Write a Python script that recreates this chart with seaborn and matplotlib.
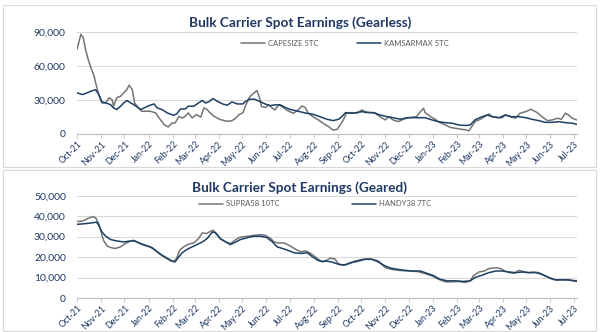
import matplotlib
matplotlib.use("Agg")
import matplotlib.pyplot as plt
import matplotlib.dates as mdates
from matplotlib.patches import Rectangle
import seaborn as sns
import pandas as pd

# ---------------- data ----------------
cape_dates = ["2021-10-01","2021-10-06","2021-10-09","2021-10-12","2021-10-16","2021-10-19","2021-10-23",
    "2021-10-26","2021-10-29","2021-11-02","2021-11-07","2021-11-11","2021-11-15","2021-11-17","2021-11-21",
    "2021-11-26","2021-11-30","2021-12-04","2021-12-07","2021-12-11","2021-12-14","2021-12-19","2021-12-23",
    "2022-01-03","2022-01-10","2022-01-16","2022-01-21","2022-01-26","2022-01-31","2022-02-04","2022-02-09",
    "2022-02-13","2022-02-17","2022-02-21","2022-02-26","2022-03-03","2022-03-09","2022-03-13","2022-03-17",
    "2022-03-21","2022-03-26","2022-04-03","2022-04-12","2022-04-18","2022-04-23","2022-04-27","2022-05-02",
    "2022-05-06","2022-05-11","2022-05-16","2022-05-20","2022-05-23","2022-05-26","2022-05-31","2022-06-04",
    "2022-06-08","2022-06-12","2022-06-17","2022-06-21","2022-06-27","2022-07-01","2022-07-06","2022-07-12",
    "2022-07-17","2022-07-21","2022-07-25","2022-07-31","2022-08-07","2022-08-13","2022-08-20","2022-08-26",
    "2022-08-31","2022-09-04","2022-09-08","2022-09-12","2022-09-19","2022-09-25","2022-10-02","2022-10-06",
    "2022-10-12","2022-10-19","2022-10-25","2022-11-01","2022-11-05","2022-11-11","2022-11-18","2022-11-24",
    "2022-12-01","2022-12-05","2022-12-11","2022-12-16","2022-12-20","2022-12-22","2022-12-29","2023-01-04",
    "2023-01-10","2023-01-17","2023-01-23","2023-01-30","2023-02-07","2023-02-12","2023-02-16","2023-02-20",
    "2023-02-24","2023-03-03","2023-03-10","2023-03-14","2023-03-18","2023-03-25","2023-03-31","2023-04-04",
    "2023-04-10","2023-04-17","2023-04-23","2023-04-30","2023-05-07","2023-05-15","2023-05-21","2023-05-28",
    "2023-06-03","2023-06-10","2023-06-15","2023-06-20","2023-06-24","2023-06-29","2023-07-05"]
cape_vals = [74600,87900,85000,74600,64300,58400,51000,42200,34800,27400,27400,31900,30400,24500,31900,
    33400,36300,39200,43100,39200,27400,23000,20100,20100,18600,12700,8200,6200,9700,9700,15600,
    14000,15600,18600,14200,17100,15000,23000,21600,18600,15600,12700,11200,11700,14000,17100,18600,
    26000,33000,36000,38300,33000,24200,23300,25700,23300,21200,25700,24200,21200,19700,18300,21200,
    24800,23300,18300,15300,12400,9500,6500,3500,4100,8000,12400,18300,18900,18300,21200,19700,
    18900,18300,15300,12400,15300,12400,10900,13000,14400,14700,15300,19700,22700,18900,15300,13000,
    10000,8000,5900,5000,4100,3800,2700,6500,10900,13000,15900,17700,15300,14400,14400,16800,
    15300,13900,18300,19700,21800,18900,15300,11800,12400,13900,13000,18300,16800,13900,12400]

kams_dates = ["2021-10-01","2021-10-08","2021-10-14","2021-10-21","2021-10-25","2021-10-29","2021-11-02",
    "2021-11-07","2021-11-13","2021-11-17","2021-11-21","2021-11-26","2021-11-30","2021-12-04","2021-12-09",
    "2021-12-13","2021-12-17","2021-12-22","2021-12-28","2022-01-03","2022-01-08","2022-01-12","2022-01-18",
    "2022-01-25","2022-02-02","2022-02-06","2022-02-11","2022-02-17","2022-02-21","2022-02-28","2022-03-06",
    "2022-03-11","2022-03-15","2022-03-19","2022-03-25","2022-03-30","2022-04-06","2022-04-12","2022-04-18",
    "2022-04-25","2022-05-02","2022-05-05","2022-05-11","2022-05-17","2022-05-24","2022-05-31","2022-06-06",
    "2022-06-12","2022-06-19","2022-06-25","2022-07-01","2022-07-08","2022-07-14","2022-07-23","2022-07-31",
    "2022-08-09","2022-08-18","2022-08-26","2022-09-02","2022-09-06","2022-09-11","2022-09-19","2022-09-25",
    "2022-10-02","2022-10-08","2022-10-17","2022-10-25","2022-11-03","2022-11-11","2022-11-20","2022-11-29",
    "2022-12-05","2022-12-13","2022-12-22","2022-12-31","2023-01-08","2023-01-17","2023-01-26","2023-02-03",
    "2023-02-12","2023-02-18","2023-02-24","2023-03-03","2023-03-12","2023-03-18","2023-03-27","2023-04-04",
    "2023-04-12","2023-04-21","2023-04-30","2023-05-08","2023-05-17","2023-05-25","2023-06-03","2023-06-12",
    "2023-06-20","2023-06-29","2023-07-05"]
kams_vals = [36300,34800,36300,38300,39000,34800,28300,27400,25900,23000,21600,24500,27400,29500,27400,
    25900,23900,21600,23600,25400,26500,23000,21600,18600,16500,17700,22100,22100,24500,24500,27400,
    29500,27400,28300,31300,28900,26500,25400,28300,26500,26500,28600,30700,30700,28600,26400,25000,
    25700,25700,23600,21800,20700,19700,18300,17400,15300,13000,11800,13000,15300,18900,18300,18900,
    19700,18900,18900,16800,15300,14400,13000,14400,14400,14400,14400,12400,10900,10000,9500,8000,
    7500,8000,12400,14700,16800,15300,14400,16800,15300,15300,14400,13000,11800,10300,10300,10900,
    10000,9500,8500]

supra_dates = ["2021-10-01","2021-10-08","2021-10-14","2021-10-21","2021-10-25","2021-10-29","2021-11-01",
    "2021-11-04","2021-11-09","2021-11-15","2021-11-19","2021-11-26","2021-12-02","2021-12-09","2021-12-13",
    "2021-12-19","2021-12-26","2022-01-03","2022-01-10","2022-01-16","2022-01-22","2022-01-29","2022-02-02",
    "2022-02-06","2022-02-10","2022-02-15","2022-02-21","2022-02-28","2022-03-06","2022-03-11","2022-03-16",
    "2022-03-20","2022-03-25","2022-03-29","2022-04-03","2022-04-10","2022-04-16","2022-04-23","2022-04-29",
    "2022-05-08","2022-05-16","2022-05-25","2022-05-31","2022-06-07","2022-06-11","2022-06-17","2022-06-24",
    "2022-06-30","2022-07-07","2022-07-15","2022-07-22","2022-07-28","2022-08-04","2022-08-10","2022-08-16",
    "2022-08-22","2022-08-28","2022-09-02","2022-09-08","2022-09-14","2022-09-23","2022-10-02","2022-10-11",
    "2022-10-19","2022-10-23","2022-10-27","2022-11-01","2022-11-09","2022-11-18","2022-12-01","2022-12-13",
    "2022-12-22","2022-12-31","2023-01-08","2023-01-17","2023-01-26","2023-02-03","2023-02-12","2023-02-18",
    "2023-02-22","2023-03-01","2023-03-08","2023-03-14","2023-03-23","2023-03-29","2023-04-03","2023-04-09",
    "2023-04-16","2023-04-21","2023-04-28","2023-05-04","2023-05-10","2023-05-17","2023-05-25","2023-06-03",
    "2023-06-10","2023-06-16","2023-06-24","2023-07-05"]
supra_vals = [37400,37600,38700,39800,39200,36300,32300,28200,25300,24500,24200,25000,26600,27900,28200,
    26900,25800,25000,23100,21300,19800,18200,17700,19400,23400,25000,26300,26900,29000,31800,31500,
    32300,33100,31500,29000,27400,26600,28600,29800,30200,30600,31000,30600,29000,27400,26900,26900,
    25800,24200,22600,23000,21800,19800,18000,18100,19400,19200,16500,16000,16900,18100,18900,19200,
    18500,18100,16500,14800,14000,13500,13200,12900,11900,10800,9200,7900,7900,8100,7600,8400,
    10800,12700,13200,14400,14800,14400,13200,12400,12100,13500,12900,12400,12700,12400,10800,9200,
    8700,8900,8700,8400]

handy_dates = ["2021-10-01","2021-10-10","2021-10-18","2021-10-26","2021-10-29","2021-11-02","2021-11-07",
    "2021-11-13","2021-11-21","2021-11-30","2021-12-09","2021-12-14","2021-12-22","2021-12-30","2022-01-06",
    "2022-01-12","2022-01-18","2022-01-25","2022-01-31","2022-02-04","2022-02-09","2022-02-13","2022-02-19",
    "2022-02-26","2022-03-04","2022-03-11","2022-03-17","2022-03-24","2022-03-28","2022-04-03","2022-04-10",
    "2022-04-16","2022-04-23","2022-04-29","2022-05-08","2022-05-16","2022-05-25","2022-06-02","2022-06-09",
    "2022-06-15","2022-06-22","2022-06-28","2022-07-07","2022-07-15","2022-07-24","2022-07-30","2022-08-06",
    "2022-08-12","2022-08-16","2022-08-24","2022-09-02","2022-09-10","2022-09-19","2022-09-28","2022-10-06",
    "2022-10-15","2022-10-23","2022-11-01","2022-11-09","2022-11-22","2022-12-05","2022-12-16","2022-12-24",
    "2023-01-01","2023-01-10","2023-01-19","2023-01-30","2023-02-09","2023-02-18","2023-02-24","2023-03-05",
    "2023-03-14","2023-03-23","2023-03-31","2023-04-09","2023-04-17","2023-04-25","2023-05-04","2023-05-13",
    "2023-05-21","2023-05-30","2023-06-07","2023-06-16","2023-06-24","2023-07-05"]
handy_vals = [36000,36300,36600,37100,35500,32300,30200,28600,27900,27400,27900,27900,26600,25500,24500,
    22600,21000,19400,18100,17700,20200,22100,23700,25000,26100,27400,29000,32300,31800,29000,27400,
    26100,27400,28600,29500,30200,30200,29500,27400,25000,24200,23400,22100,21800,22100,20200,18500,
    17700,18100,17600,16500,16100,17300,18100,18900,18900,17600,15600,14500,13700,13200,13200,12100,
    11100,9200,8400,8400,8100,8400,10000,11100,12400,13200,13200,12700,12400,12700,12400,12400,
    11600,10000,8900,8900,8900,8100]

top_title = "Bulk Carrier Spot Earnings (Gearless)"
bot_title = "Bulk Carrier Spot Earnings (Geared)"
top_labels = ["CAPESIZE 5TC", "KAMSARMAX 5TC"]
bot_labels = ["SUPRA58 10TC", "HANDY38 7TC"]
top_yticks = [0, 30000, 60000, 90000]
bot_yticks = [0, 10000, 20000, 30000, 40000, 50000]

# ---------------- style ----------------
sns.set_style("white")
plt.rcParams['font.family'] = ['Lato', 'DejaVu Sans']

GREY = "#747474"
BLUE = "#1e3f64"
NAVY = "#1f3864"
GRID = "#d9d9d9"

fig = plt.figure(figsize=(6.0, 3.32), dpi=100)

# panel frames
for (b, h) in [(0.497, 0.488), (0.003, 0.485)]:
    fig.patches.append(Rectangle((0.005, b), 0.988, h, transform=fig.transFigure,
                                 fill=False, edgecolor="#d9d9d9", linewidth=0.8))

ax1 = fig.add_axes([0.1283, 0.5964, 0.8333, 0.3072])
ax2 = fig.add_axes([0.1283, 0.1024, 0.8333, 0.3081])

xmin = pd.Timestamp("2021-10-01")
xmax = pd.Timestamp("2023-07-05")

def draw(ax, d1, v1, d2, v2, labels, yticks, leg_x, leg_y):
    sns.lineplot(x=pd.to_datetime(d1), y=v1, ax=ax, color=GREY, linewidth=1.1)
    sns.lineplot(x=pd.to_datetime(d2), y=v2, ax=ax, color=BLUE, linewidth=1.1)
    ax.set_xlim(xmin, xmax)
    ax.set_ylim(yticks[0], yticks[-1])
    ax.set_yticks(yticks)
    ax.set_yticklabels([f"{t:,}" for t in yticks], fontsize=7.5, color=NAVY)
    ax.yaxis.grid(True, color=GRID, linewidth=0.8)
    ax.xaxis.grid(False)
    ax.set_axisbelow(True)
    for s in ["top", "right", "left"]:
        ax.spines[s].set_visible(False)
    ax.spines["bottom"].set_color("#bfbfbf")
    ax.spines["bottom"].set_linewidth(0.8)
    ax.xaxis.set_major_locator(mdates.MonthLocator())
    ax.xaxis.set_major_formatter(mdates.DateFormatter("%b-%y"))
    ax.tick_params(axis="x", which="major", length=3, width=0.6, color="#bfbfbf",
                   direction="out", bottom=True, labelsize=6.4, labelcolor=NAVY, pad=1)
    ax.tick_params(axis="y", length=0, pad=8)
    for lab in ax.get_xticklabels():
        lab.set_rotation(45)
        lab.set_ha("right")
        lab.set_rotation_mode("anchor")
    ax.set_xlabel("")
    ax.set_ylabel("")
    lines = ax.get_lines()
    for i, (ln, lab) in enumerate(zip(lines[:2], labels)):
        leg = ax.legend([ln], [lab], loc="center left", bbox_to_anchor=(leg_x[i], leg_y),
                        frameon=False, fontsize=5.5, handlelength=3.2, handletextpad=0.4,
                        borderpad=0, borderaxespad=0, labelcolor="#595959")
        if i == 0:
            ax.add_artist(leg)

draw(ax1, cape_dates, cape_vals, kams_dates, kams_vals, top_labels, top_yticks,
     [0.328, 0.56], 0.892)
draw(ax2, supra_dates, supra_vals, handy_dates, handy_vals, bot_labels, bot_yticks,
     [0.244, 0.55], 0.92)

fig.text(0.5, 0.931, top_title, ha="center", va="center", fontsize=9.8,
         fontweight="bold", color=NAVY)
fig.text(0.5, 0.434, bot_title, ha="center", va="center", fontsize=9.8,
         fontweight="bold", color=NAVY)

fig.savefig("out.png", dpi=100)
